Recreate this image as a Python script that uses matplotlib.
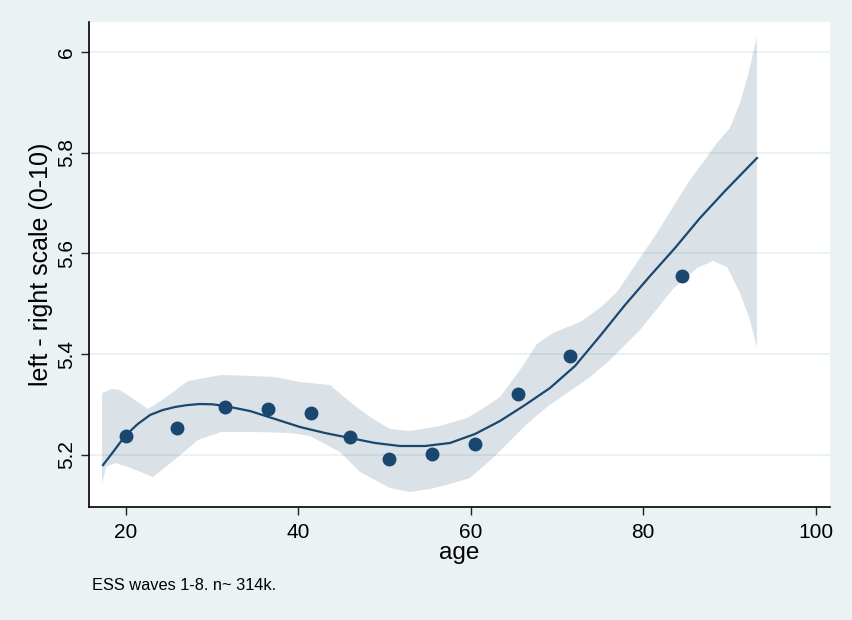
import matplotlib
matplotlib.use("Agg")
import matplotlib.pyplot as plt

plt.rcParams['font.family'] = ['Liberation Sans', 'DejaVu Sans']

# binned means (scatter)
pt_age = [19.97, 25.95, 31.46, 36.48, 41.47, 46.0, 50.49, 55.52, 60.51, 65.44, 71.54, 84.50]
pt_val = [5.2377, 5.2541, 5.2946, 5.2906, 5.2827, 5.2351, 5.1914, 5.2019, 5.2212, 5.3200, 5.3964, 5.5550]

# fitted curve
fit_age = [17.33, 18.50, 19.88, 21.33, 22.78, 24.23, 25.68, 27.13, 28.58, 30.03, 31.48, 34.38, 37.28, 40.18,
           43.08, 45.98, 48.88, 51.78, 54.68, 57.58, 60.48, 63.38, 66.28, 69.18, 72.08, 74.98, 77.88, 80.78,
           83.68, 86.58, 89.48, 93.19]
fit_val = [5.1801, 5.2060, 5.2377, 5.2610, 5.2793, 5.2890, 5.2952, 5.2990, 5.3011, 5.3005, 5.2972, 5.2872, 5.2714, 5.2555,
           5.2436, 5.2337, 5.2238, 5.2178, 5.2178, 5.2238, 5.2416, 5.2674, 5.2991, 5.3329, 5.3765, 5.4360, 5.4975, 5.5550,
           5.6106, 5.6701, 5.7237, 5.7891]

# confidence band, upper edge
up_age = [17.22, 18.38, 19.30, 21.04, 22.55, 24.52, 27.19, 31.02, 34.96, 37.28, 40.18, 43.66, 45.98, 48.30,
          50.62, 52.94, 56.42, 59.55, 61.87, 63.38, 65.70, 67.67, 69.53, 72.66, 74.98, 76.95, 79.62, 81.59,
          83.45, 85.42, 87.39, 88.55, 90.06, 91.22, 92.15, 93.19]
up_val = [5.3230, 5.3309, 5.3289, 5.3091, 5.2912, 5.3130, 5.3467, 5.3586, 5.3566, 5.3546, 5.3447, 5.3388, 5.3051, 5.2754,
          5.2515, 5.2476, 5.2575, 5.2734, 5.2972, 5.3150, 5.3686, 5.4202, 5.4420, 5.4638, 5.4916, 5.5233, 5.5908, 5.6404,
          5.6920, 5.7455, 5.7911, 5.8189, 5.8487, 5.8983, 5.9538, 6.0292]

# confidence band, lower edge
lo_age = [17.22, 17.68, 18.72, 20.23, 23.13, 26.03, 28.35, 31.02, 34.96, 39.02, 41.34, 44.82, 47.14, 50.62,
          52.94, 55.26, 57.58, 59.90, 62.57, 64.54, 66.51, 68.83, 71.50, 73.82, 76.14, 79.62, 83.45, 86.24,
          88.09, 89.72, 91.22, 92.38, 93.19]
lo_val = [5.1424, 5.1762, 5.1841, 5.1762, 5.1563, 5.1960, 5.2297, 5.2456, 5.2456, 5.2436, 5.2377, 5.2059, 5.1662, 5.1345,
          5.1266, 5.1325, 5.1424, 5.1543, 5.1940, 5.2277, 5.2614, 5.2952, 5.3269, 5.3547, 5.3884, 5.4479, 5.5292, 5.5709,
          5.5848, 5.5729, 5.5213, 5.4678, 5.4122]

x_ticks = [20, 40, 60, 80, 100]
y_ticks = [5.2, 5.4, 5.6, 5.8, 6.0]
y_ticklabels = ['5.2', '5.4', '5.6', '5.8', '6']

navy = '#1A476F'
bg = '#EAF2F3'

fig = plt.figure(figsize=(8.52, 6.2), dpi=100, facecolor=bg)
ax = fig.add_axes([88.7/852, 1-506.7/620, (830-88.7)/852, (506.7-22)/620])
ax.set_facecolor('white')

for yt in y_ticks:
    ax.axhline(yt, color=bg, lw=1.4, zorder=1)

poly_x = up_age + lo_age[::-1]
poly_y = up_val + lo_val[::-1]
ax.fill(poly_x, poly_y, color=navy, alpha=0.16, lw=0, zorder=2)
ax.plot(fit_age, fit_val, color=navy, lw=1.6, zorder=3, solid_joinstyle='round')
ax.plot(pt_age, pt_val, 'o', color=navy, ms=9, mec=navy, zorder=4)

ax.set_xlim(15.67, 101.66)
ax.set_ylim(5.0974, 6.0589)
ax.set_xticks(x_ticks)
ax.set_yticks(y_ticks)
ax.set_yticklabels(y_ticklabels, rotation=90, va='center')

for s in ['top', 'right']:
    ax.spines[s].set_visible(False)
for s in ['left', 'bottom']:
    ax.spines[s].set_color('black')
    ax.spines[s].set_linewidth(1.2)

ax.tick_params(axis='both', direction='out', length=6, width=1, color='#222222', labelsize=15)
ax.tick_params(axis='y', pad=3)
ax.tick_params(axis='x', pad=6)

ax.set_xlabel('age', fontsize=17.5, labelpad=0)
ax.set_ylabel('left - right scale (0-10)', fontsize=18, labelpad=3)

fig.text(92/852, 1-590/620, 'ESS waves 1-8. n~ 314k.', fontsize=11.8, va='baseline', ha='left')

fig.savefig('out.png', dpi=100, facecolor=bg)
